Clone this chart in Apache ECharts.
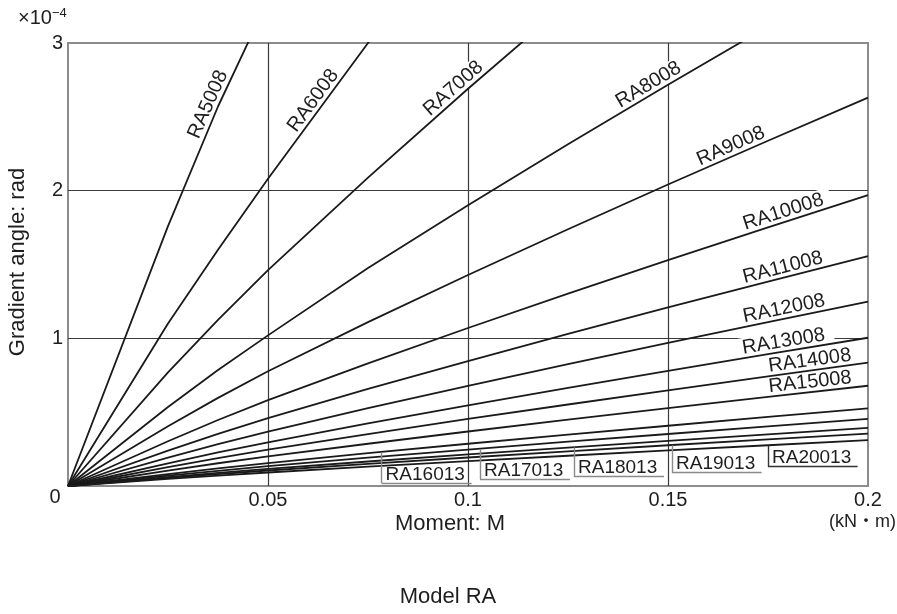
<!DOCTYPE html>
<html>
<head>
<meta charset="utf-8">
<script src="https://cdn.jsdelivr.net/npm/echarts@6/dist/echarts.min.js"></script>
<style>
html,body{margin:0;padding:0;background:#fff;}
#chart{width:897px;height:614px;}
</style>
</head>
<body>
<div id="chart"></div>
<script>
// ---- data ----
const moment = [0, 0.025, 0.0375, 0.05, 0.075, 0.1, 0.125, 0.15, 0.175, 0.2]; // kN·m
const seriesNames = ['RA5008','RA6008','RA7008','RA8008','RA9008','RA10008','RA11008','RA12008','RA13008','RA14008','RA15008','RA16013','RA17013','RA18013','RA19013','RA20013'];
// gradient angle (×10^-4 rad) at each moment value
const RA5008  = [0, 1.76, 2.57, 3.29];
const RA6008  = [0, 1.10, 1.60, 2.08, 3.00, 3.83];
const RA7008  = [0, 0.77, 1.125, 1.462, 2.088, 2.690, 3.273];
const RA8008  = [0, 0.535, 0.785, 1.02, 1.477, 1.902, 2.315, 2.717, 3.112];
const RA9008  = [0, 0.405, 0.597, 0.777, 1.110, 1.429, 1.739, 2.042, 2.338, 2.63];
const RA10008 = [0, 0.303, 0.447, 0.582, 0.831, 1.070, 1.303, 1.529, 1.752, 1.97];
const RA11008 = [0, 0.240, 0.353, 0.460, 0.657, 0.846, 1.030, 1.209, 1.384, 1.557];
const RA12008 = [0, 0.192, 0.283, 0.369, 0.527, 0.678, 0.825, 0.969, 1.110, 1.248];
const RA13008 = [0, 0.154, 0.227, 0.296, 0.424, 0.546, 0.664, 0.779, 0.893, 1.004];
const RA14008 = [0, 0.128, 0.189, 0.247, 0.352, 0.454, 0.552, 0.648, 0.742, 0.835];
const RA15008 = [0, 0.104, 0.154, 0.200, 0.286, 0.369, 0.449, 0.527, 0.604, 0.679];
const RA16013 = [0, 0.081, 0.119, 0.155, 0.222, 0.286, 0.348, 0.408, 0.468, 0.526];
const RA17013 = [0, 0.070, 0.103, 0.134, 0.192, 0.247, 0.300, 0.352, 0.404, 0.454];
const RA18013 = [0, 0.060, 0.089, 0.116, 0.166, 0.214, 0.260, 0.305, 0.349, 0.393];
const RA19013 = [0, 0.055, 0.080, 0.105, 0.150, 0.193, 0.235, 0.276, 0.316, 0.355];
const RA20013 = [0, 0.048, 0.070, 0.0915, 0.131, 0.168, 0.205, 0.241, 0.276, 0.31];
const seriesValues = [RA5008,RA6008,RA7008,RA8008,RA9008,RA10008,RA11008,RA12008,RA13008,RA14008,RA15008,RA16013,RA17013,RA18013,RA19013,RA20013];
const xTicks = [0, 0.05, 0.1, 0.15, 0.2];
const yTicks = [0, 1, 2, 3];

// ---- annotation placement ----
// rotated labels: [name, anchor moment on the curve, offset from curve (px), background padX]
const rotatedLabels = [
  ['RA5008', 0.0373, 10, 2],
  ['RA6008', 0.0633, 10, 2],
  ['RA7008', 0.0980, 10, 3],
  ['RA8008', 0.1464, 10, 3],
  ['RA9008', 0.1667, 10, 2],
  ['RA10008', 0.1796, 10, 8],
  ['RA11008', 0.1793, 10, 2],
  ['RA12008', 0.1795, 10, 2],
  ['RA13008', 0.1793, 10, 9],
  ['RA14008', 0.1858, 10, 2],
  ['RA15008', 0.1858, 10, 2]
];
// bracket labels: [name, xLeft, yTop, yBottom, xRight, color]
const bracketLabels = [
  ['RA16013', 0.0784, 0.228, 0.020, 0.1009, '#8a8a8a'],
  ['RA17013', 0.103, 0.250, 0.047, 0.1255, '#8a8a8a'],
  ['RA18013', 0.1265, 0.262, 0.063, 0.149, '#8a8a8a'],
  ['RA19013', 0.151, 0.276, 0.090, 0.1734, '#8a8a8a'],
  ['RA20013', 0.175, 0.276, 0.131, 0.1974, '#333333']
];

const FONT = "'Liberation Sans', Arial, Helvetica, sans-serif";
const TXT = '#1e1e1e';

const series = seriesNames.map((name, i) => {
  const vals = seriesValues[i];
  const s = {
    name: name,
    type: 'line',
    data: vals.map((v, k) => [moment[k], v]),
    symbol: 'none',
    showSymbol: false,
    clip: true,
    silent: true,
    z: 2,
    lineStyle: { color: '#1a1a1a', width: 1.8, join: 'round' }
  };
  const bl = bracketLabels.find(r => r[0] === name);
  if (bl) {
    s.markLine = {
      silent: true,
      symbol: 'none',
      z: 3,
      label: { show: false },
      lineStyle: { color: bl[5], width: 1.4, type: 'solid' },
      emphasis: { disabled: true },
      data: [
        [{ coord: [bl[1], bl[2]] }, { coord: [bl[1], bl[3]] }],
        [{ coord: [bl[1], bl[3]] }, { coord: [bl[4], bl[3]] }]
      ]
    };
    s.markPoint = {
      silent: true,
      z: 3,
      symbol: 'circle',
      symbolSize: 0,
      data: [{
        coord: [bl[1], bl[3]],
        label: {
          show: true, position: [4, 1], formatter: name,
          align: 'left', verticalAlign: 'bottom',
          fontSize: 19, fontFamily: FONT, color: TXT
        }
      }]
    };
  }
  return s;
});

const chart = echarts.init(document.getElementById('chart'), null, { renderer: 'canvas' });
const baseGraphic = [
  { type: 'text', left: 18, top: 7, style: { rich: { a: { fontSize: 20, fontFamily: FONT, fill: TXT }, b: { fontSize: 13, fontFamily: FONT, fill: TXT, verticalAlign: 'top', padding: [0, 0, 9, 0] } }, text: '{a|×10}{b|−4}' } },
  { type: 'text', x: 55, y: 497, style: { text: '0', fontSize: 20, fontFamily: FONT, fill: TXT, align: 'center', verticalAlign: 'middle' } },
  { type: 'text', x: 18, y: 262, rotation: Math.PI / 2, style: { text: 'Gradient angle: rad', fontSize: 22, fontFamily: FONT, fill: TXT, align: 'center', verticalAlign: 'middle' } },
  { type: 'text', x: 450, y: 524, style: { text: 'Moment: M', fontSize: 22, fontFamily: FONT, fill: TXT, align: 'center', verticalAlign: 'middle' } },
  { type: 'text', x: 896, y: 522, style: { text: '(kN・m)', fontSize: 18, fontFamily: "'Liberation Sans', 'Noto Sans CJK JP', sans-serif", fill: TXT, align: 'right', verticalAlign: 'middle' } },
  { type: 'text', x: 448, y: 597, style: { text: 'Model RA', fontSize: 22, fontFamily: FONT, fill: TXT, align: 'center', verticalAlign: 'middle' } }
];
chart.setOption({
  animation: false,
  backgroundColor: '#fff',
  grid: { left: 68, right: 29, top: 43, bottom: 128, show: true, borderColor: '#8c8c8c', borderWidth: 2, backgroundColor: 'transparent' },
  xAxis: {
    type: 'value', min: xTicks[0], max: xTicks[xTicks.length - 1], interval: xTicks[1] - xTicks[0],
    axisLine: { show: false }, axisTick: { show: false },
    axisLabel: { fontSize: 20, fontFamily: FONT, color: TXT, margin: 4,
      formatter: v => (Math.abs(v) < 1e-9 ? '' : String(+v.toFixed(2))) },
    splitLine: { show: true, showMinLine: false, showMaxLine: false, lineStyle: { color: '#3a3a3a', width: 1.2 } }
  },
  yAxis: {
    type: 'value', min: yTicks[0], max: yTicks[yTicks.length - 1], interval: yTicks[1] - yTicks[0],
    axisLine: { show: false }, axisTick: { show: false },
    axisLabel: { fontSize: 20, fontFamily: FONT, color: TXT, margin: 5,
      formatter: v => (Math.abs(v) < 1e-9 ? '' : String(v)) },
    splitLine: { show: true, showMinLine: false, showMaxLine: false, lineStyle: { color: '#3a3a3a', width: 1.2 } }
  },
  graphic: baseGraphic,
  series: series
});

// rotated curve labels placed via the chart's own coordinate conversion
function interp(vals, x) {
  for (let k = 0; k < vals.length - 1; k++) {
    if (x >= moment[k] && x <= moment[k + 1]) {
      const t = (x - moment[k]) / (moment[k + 1] - moment[k]);
      return vals[k] + t * (vals[k + 1] - vals[k]);
    }
  }
  return vals[vals.length - 1];
}
const labelGraphics = rotatedLabels.map(([name, xa, off, padX]) => {
  const vals = seriesValues[seriesNames.indexOf(name)];
  const toPx = x => chart.convertToPixel({ gridIndex: 0 }, [x, interp(vals, x)]);
  const p = toPx(xa), p1 = toPx(xa - 0.003), p2 = toPx(xa + 0.003);
  const ang = Math.atan2(-(p2[1] - p1[1]), p2[0] - p1[0]);
  const nx = -Math.sin(ang), ny = -Math.cos(ang);
  return {
    type: 'text', z: 1,
    x: p[0] + off * nx, y: p[1] + off * ny, rotation: ang,
    style: { text: name, fontSize: 20, fontFamily: FONT, fill: TXT, align: 'center', verticalAlign: 'middle',
      backgroundColor: '#fff', padding: [0, padX] }
  };
});
chart.setOption({ graphic: baseGraphic.concat(labelGraphics) });
</script>
</body>
</html>
